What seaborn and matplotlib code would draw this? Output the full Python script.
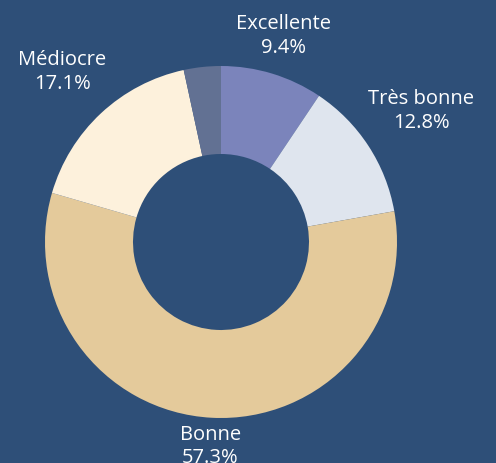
import numpy as np
import matplotlib
matplotlib.use("Agg")
import matplotlib.pyplot as plt
import seaborn as sns

categories = ["Excellente", "Très bonne", "Bonne", "Médiocre", ""]
shares = [9.4, 12.8, 57.3, 17.1, 3.4]
slice_colors = ["#7b84bb", "#dfe5ee", "#e4ca9b", "#fdf1dc", "#627193"]
background = "#2e4f78"

sns.set_theme(style="white")
plt.rcParams["font.family"] = ["Open Sans", "DejaVu Sans"]

fig = plt.figure(figsize=(4.96, 4.63), dpi=100, facecolor=background)
ax = fig.add_axes([0, 0, 1, 1])
ax.set_facecolor(background)

wedges, _ = ax.pie(shares, colors=slice_colors, startangle=90, counterclock=False,
                   radius=1.0, wedgeprops=dict(width=0.5, linewidth=0))

total = sum(shares)
start = 90.0
for name, value in zip(categories, shares):
    sweep = value / total * 360
    mid = np.deg2rad(start - sweep / 2)
    start -= sweep
    if not name:
        continue
    dist = 1.15 + 0.25 * abs(np.cos(mid))
    ax.text(dist * np.cos(mid), dist * np.sin(mid), f"{name}\n{value:.1f}%",
            ha="center", va="center", color="white", fontsize=14.5, linespacing=1.25)

ax.set_xlim(-221 / 176, 275 / 176)
ax.set_ylim(-221 / 176, 242 / 176)
ax.set_aspect("equal")
ax.axis("off")

fig.savefig("out.png", dpi=100, facecolor=background)
